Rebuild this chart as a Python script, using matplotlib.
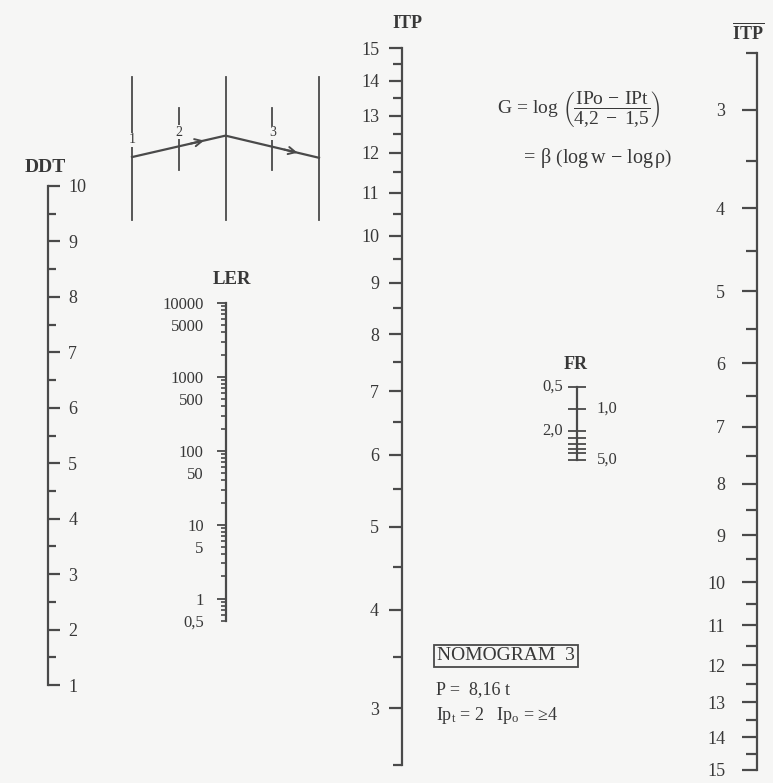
import numpy as np
import matplotlib.pyplot as plt
from matplotlib.ticker import FixedLocator, LogLocator, FuncFormatter, NullFormatter

W, H = 773, 783
BG = "#f6f6f5"
INK = "#383838"
LINE = "#4a4a4a"

plt.rcParams["font.family"] = ["Liberation Serif", "DejaVu Serif"]
plt.rcParams["mathtext.fontset"] = "custom"
plt.rcParams["mathtext.rm"] = "Liberation Serif"
plt.rcParams["mathtext.it"] = "Liberation Serif:italic"
plt.rcParams["mathtext.bf"] = "Liberation Serif:bold"
plt.rcParams["text.color"] = INK

# scale values
ddt_major = [1, 2, 3, 4, 5, 6, 7, 8, 9, 10]
ddt_minor = [1.5, 2.5, 3.5, 4.5, 5.5, 6.5, 7.5, 8.5, 9.5]
ddt_range = (1, 10)

ler_range = (0.5, 10000)
ler_minor_labels = {0.5: "0,5", 5: "5", 50: "50", 500: "500", 5000: "5000"}

itp_major = [3, 4, 5, 6, 7, 8, 9, 10, 11, 12, 13, 14, 15]
itp_minor = [2.5, 3.5, 4.5, 5.5, 6.5, 7.5, 8.5, 9.5, 10.5, 11.5, 12.5, 13.5, 14.5]
itp_range = (2.5, 15)

fr_major = [0.5, 1.0, 2.0, 5.0]
fr_minor = [2.5, 3.0, 3.5, 4.0]
fr_labels = ["0,5", "1,0", "2,0", "5,0"]
fr_side = ["left", "right", "left", "right"]
fr_range = (0.5, 5.0)

# schematic (top left): vertical guides and the path across them
sk_long_x = [0, 2, 4]
sk_short_x = [1, 3]
sk_path_x = [0, 2, 4]
sk_path_y = [4.4, 5.9, 4.35]
sk_num_x = [0, 1, 3]
sk_num_y = [5.6, 6.15, 6.1]
sk_num = ["1", "2", "3"]


def itp_fwd(v):
    # ITP scales are spaced like log(ITP + 2)
    return np.log10(np.maximum(np.asarray(v, dtype=float) + 2, 1e-9))


def itp_inv(u):
    return 10 ** np.asarray(u, dtype=float) - 2


fig = plt.figure(figsize=(W / 100, H / 100), dpi=100, facecolor=BG)


def px_axes(x, ytop, ybot, side):
    w = 0.5
    left = x if side == "left" else x - w
    ax = fig.add_axes([left / W, 1 - ybot / H, w / W, (ybot - ytop) / H])
    ax.patch.set_alpha(0)
    for s in ax.spines.values():
        s.set_visible(False)
    ax.spines[side].set_visible(True)
    ax.spines[side].set_color(LINE)
    ax.spines[side].set_linewidth(1.6)
    ax.set_xticks([])
    if side == "right":
        ax.yaxis.tick_right()
    else:
        ax.yaxis.tick_left()
    return ax


def fx(px):
    return px / W


def fy(px):
    return 1 - px / H


# DDT
ax = px_axes(48, 186, 685, "right")
ax.set_ylim(*ddt_range)
ax.yaxis.set_major_locator(FixedLocator(ddt_major))
ax.yaxis.set_minor_locator(FixedLocator(ddt_minor))
ax.yaxis.set_major_formatter(FuncFormatter(lambda v, p: f"{v:g}"))
ax.tick_params(axis="y", which="major", direction="out", length=8.5, width=1.6,
               color=LINE, pad=6, labelsize=13, labelcolor=INK)
ax.tick_params(axis="y", which="minor", direction="out", length=5.5, width=1.6, color=LINE)
fig.text(fx(25), fy(167), "DDT", fontsize=14, fontweight="bold", ha="left", va="center")

# LER
ax = px_axes(226, 303, 621, "left")
ax.set_yscale("log")
ax.set_ylim(*ler_range)
ax.yaxis.set_major_locator(LogLocator(base=10, subs=(1.0,)))
ax.yaxis.set_minor_locator(LogLocator(base=10, subs=(2, 3, 4, 5, 6, 7, 8, 9)))
ax.yaxis.set_major_formatter(FuncFormatter(lambda v, p: f"{v:g}"))


def ler_minor_fmt(v, p):
    for k, s in ler_minor_labels.items():
        if abs(v - k) < 1e-6 * k:
            return s
    return ""


ax.yaxis.set_minor_formatter(FuncFormatter(ler_minor_fmt))
ax.tick_params(axis="y", which="major", direction="out", length=6.5, width=1.3,
               color=LINE, pad=9.5, labelsize=12, labelcolor=INK)
ax.tick_params(axis="y", which="minor", direction="out", length=3.4, width=1.2,
               color=LINE, pad=12.6, labelsize=12, labelcolor=INK)
fig.text(fx(232), fy(279), "LER", fontsize=13.5, fontweight="bold", ha="center", va="center")

# ITP (middle)
ax = px_axes(402, 48, 765, "left")
ax.set_yscale("function", functions=(itp_fwd, itp_inv))
ax.set_ylim(*itp_range)
ax.yaxis.set_major_locator(FixedLocator(itp_major))
ax.yaxis.set_minor_locator(FixedLocator(itp_minor))
ax.yaxis.set_major_formatter(FuncFormatter(lambda v, p: f"{v:g}"))
ax.yaxis.set_minor_formatter(NullFormatter())
ax.tick_params(axis="y", which="major", direction="out", length=9.5, width=1.6,
               color=LINE, pad=7, labelsize=13, labelcolor=INK)
ax.tick_params(axis="y", which="minor", direction="out", length=6.5, width=1.6, color=LINE)
fig.text(fx(407), fy(23), "ITP", fontsize=13, fontweight="bold", ha="center", va="center")

# ITP bar (right)
ax = px_axes(757, 53, 770, "left")
ax.set_yscale("function", functions=(itp_fwd, itp_inv))
ax.set_ylim(itp_range[1], itp_range[0])
ax.yaxis.set_major_locator(FixedLocator(itp_major))
ax.yaxis.set_minor_locator(FixedLocator(itp_minor))
ax.yaxis.set_major_formatter(FuncFormatter(lambda v, p: f"{v:g}"))
ax.yaxis.set_minor_formatter(NullFormatter())
ax.tick_params(axis="y", which="major", direction="out", length=10.5, width=1.6,
               color=LINE, pad=12.5, labelsize=13, labelcolor=INK)
ax.tick_params(axis="y", which="minor", direction="out", length=8, width=1.6, color=LINE)
fig.text(fx(748), fy(33), r"$\overline{\mathbf{ITP}}$", fontsize=13, ha="center", va="center")

# FR
ax = px_axes(577, 387, 460, "left")
ax.set_yscale("log")
ax.set_ylim(fr_range[1], fr_range[0])
ax.yaxis.set_major_locator(FixedLocator(fr_major))
ax.yaxis.set_minor_locator(FixedLocator(fr_minor))
ax.yaxis.set_major_formatter(NullFormatter())
ax.yaxis.set_minor_formatter(NullFormatter())
ax.tick_params(axis="y", which="both", direction="inout", length=12.5, width=1.3, color=LINE)
for v, lab, side in zip(fr_major, fr_labels, fr_side):
    dx = -10 if side == "left" else 14
    ax.annotate(lab, xy=(0, v), xycoords=ax.get_yaxis_transform(), xytext=(dx, 0),
                textcoords="offset points", ha="right" if side == "left" else "left",
                va="center", fontsize=12)
fig.text(fx(576), fy(364), "FR", fontsize=13, fontweight="bold", ha="center", va="center")

# schematic
sk = fig.add_axes([fx(132), fy(220), (319 - 132) / W, (220 - 77) / H])
sk.set_xlim(0, 4)
sk.set_ylim(0, 10)
sk.axis("off")
for xv in sk_long_x:
    sk.plot([xv, xv], [0, 10], color=LINE, lw=1.3, clip_on=False)
for xv in sk_short_x:
    sk.plot([xv, xv], [3.5, 7.85], color=LINE, lw=1.3, clip_on=False)
sk.plot(sk_path_x, sk_path_y, color=LINE, lw=1.6, clip_on=False)
for i in range(len(sk_path_x) - 1):
    x0, x1 = sk_path_x[i], sk_path_x[i + 1]
    y0, y1 = sk_path_y[i], sk_path_y[i + 1]
    t0, t1 = 0.6, 0.8
    sk.annotate("", xy=(x0 + t1 * (x1 - x0), y0 + t1 * (y1 - y0)),
                xytext=(x0 + t0 * (x1 - x0), y0 + t0 * (y1 - y0)),
                arrowprops=dict(arrowstyle="->", color=LINE, lw=1.4, mutation_scale=13))
for xv, yv, s in zip(sk_num_x, sk_num_y, sk_num):
    sk.text(xv, yv, s, ha="center", va="center", fontsize=10,
            bbox=dict(boxstyle="square,pad=0.05", fc=BG, ec="none"))

# formula
fig.text(fx(497), fy(109),
         r"$\mathrm{G\,=\,log}\ \left(\dfrac{\mathrm{IPo\,-\,IPt}}{\mathrm{4{,}2\ -\ 1{,}5}}\right)$",
         fontsize=14, ha="left", va="center")
fig.text(fx(521), fy(158),
         r"$\mathrm{=\,\beta\ \left(log\,w\,-\,log\,\rho\right)}$",
         fontsize=14.5, ha="left", va="center")

# caption block
fig.text(fx(437), fy(656), "NOMOGRAM  3", fontsize=14, ha="left", va="center",
         bbox=dict(boxstyle="square,pad=0.15", fc="none", ec=LINE, lw=1.3))
fig.text(fx(436), fy(690), "P =  8,16 t", fontsize=13, ha="left", va="center")
fig.text(fx(436), fy(716), r"Ip$_\mathrm{t}$ = 2   Ip$_\mathrm{o}$ = ≥4", fontsize=13,
         ha="left", va="center")

fig.savefig("out.png", dpi=100, facecolor=BG)
